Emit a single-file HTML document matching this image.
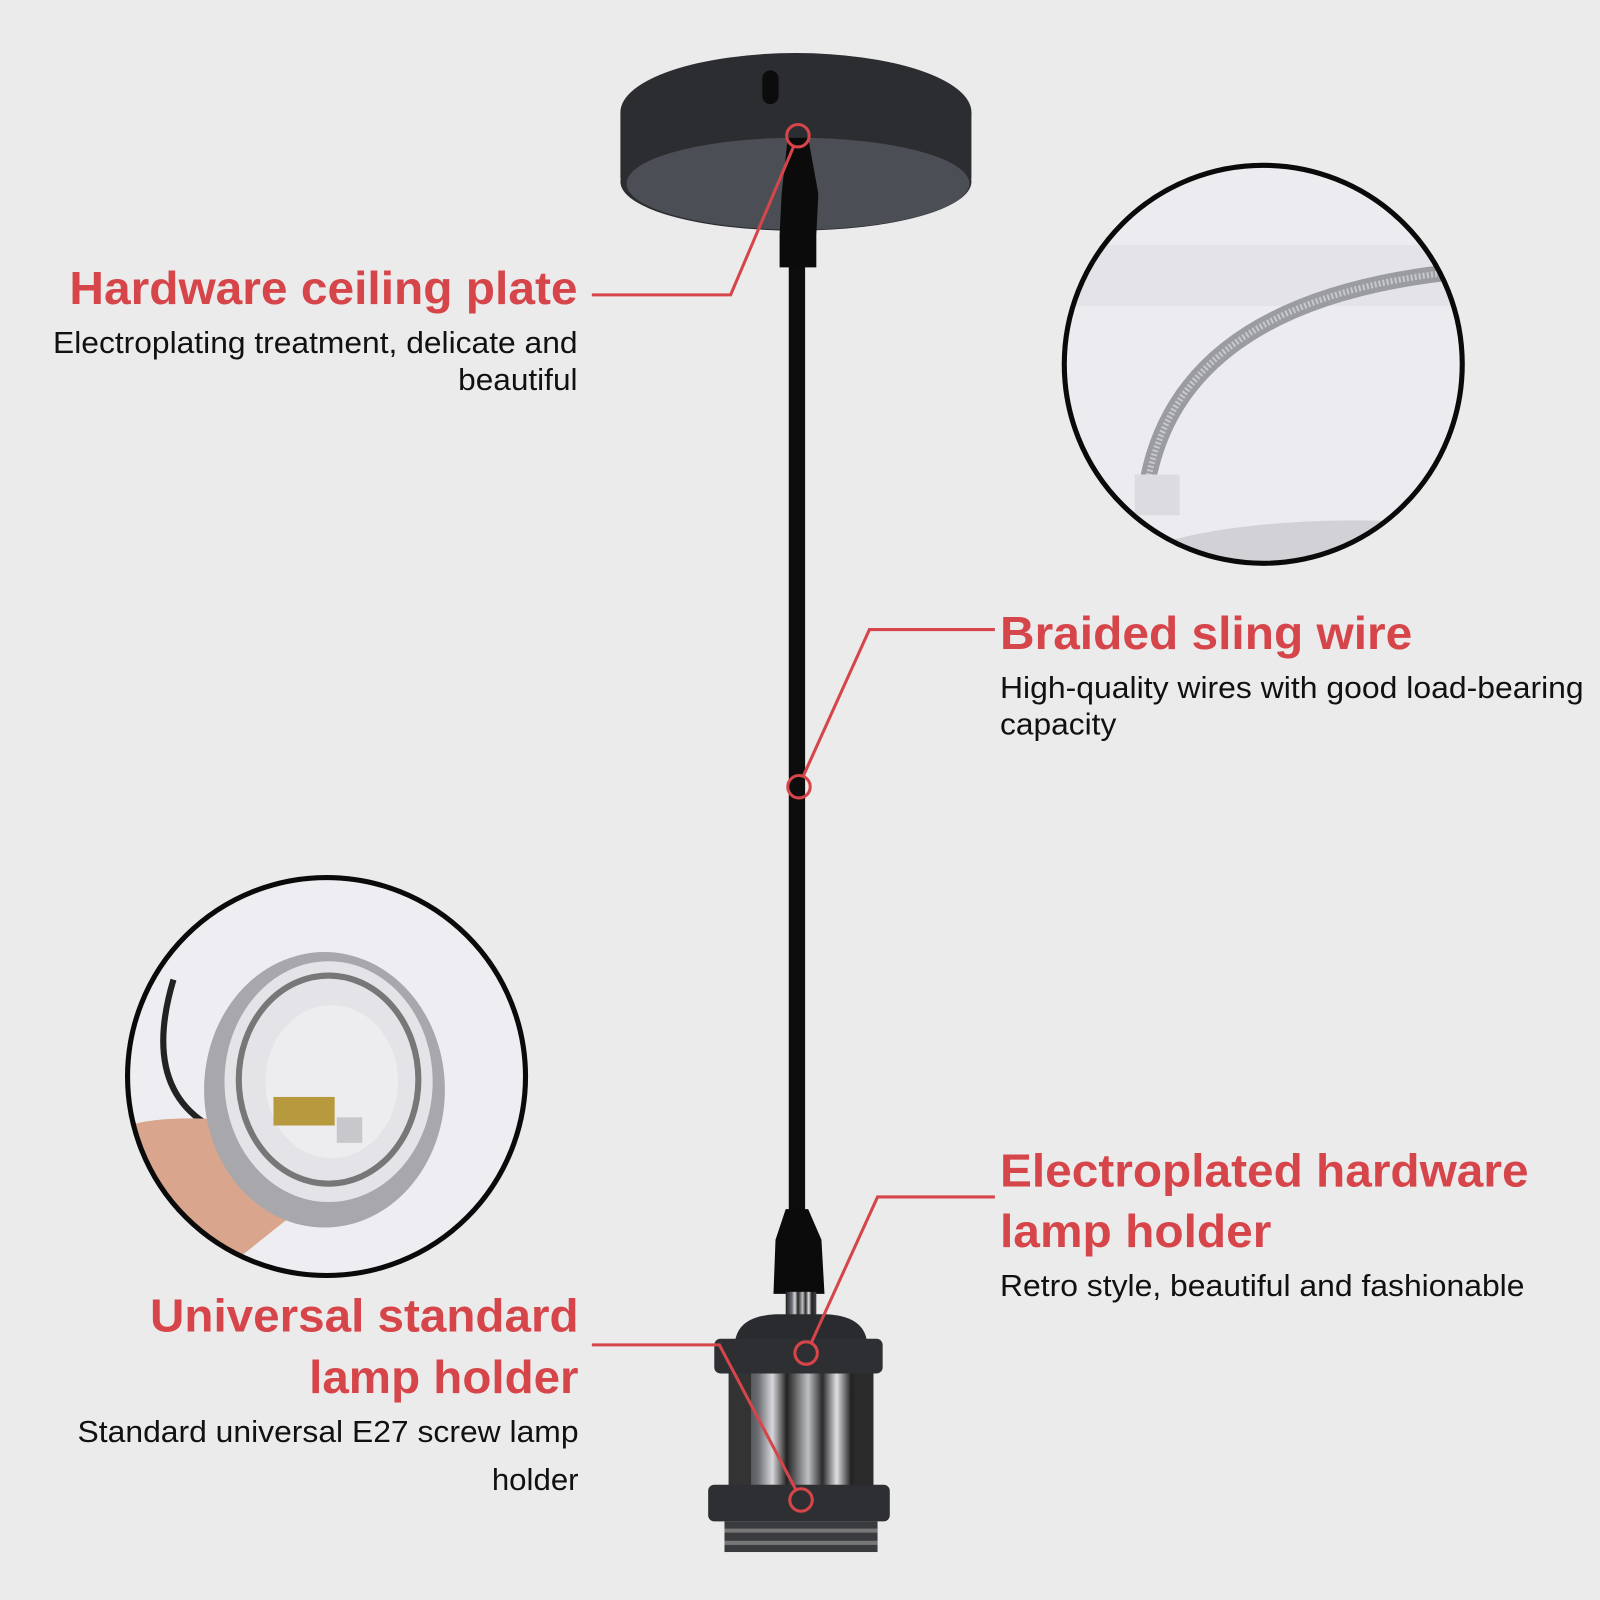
<!DOCTYPE html>
<html><head><meta charset="utf-8"><style>
html,body{margin:0;padding:0;background:#ebebeb;}
svg{display:block}
.t{font-family:"Liberation Sans",sans-serif;font-weight:bold;fill:#d64549;font-size:45px}
.s{font-family:"Liberation Sans",sans-serif;fill:#111;font-size:30px}
</style></head><body>
<svg width="1600" height="1600" viewBox="0 0 1568 1568" xmlns="http://www.w3.org/2000/svg">
<defs>
<linearGradient id="chrome" x1="0" x2="1" y1="0" y2="0">
<stop offset="0" stop-color="#1e1f22"/><stop offset="0.2" stop-color="#6a6d72"/><stop offset="0.3" stop-color="#d8d8dc"/><stop offset="0.4" stop-color="#222"/><stop offset="0.55" stop-color="#bfc0c4"/><stop offset="0.65" stop-color="#2a2a2d"/><stop offset="0.75" stop-color="#e0e0e4"/><stop offset="0.85" stop-color="#222"/><stop offset="1" stop-color="#444"/>
</linearGradient>
<clipPath id="c1"><circle cx="1238" cy="357" r="195"/></clipPath>
<clipPath id="c2"><circle cx="320" cy="1055" r="195"/></clipPath>
</defs>
<rect width="1568" height="1568" fill="#ebebeb"/>

<ellipse cx="780" cy="110" rx="172" ry="58" fill="#2b2d31"/>
<rect x="608" y="110" width="344" height="65" fill="#2b2d31"/>
<ellipse cx="780" cy="178" rx="172" ry="48" fill="#2b2d31"/>
<ellipse cx="782" cy="180" rx="168" ry="45" fill="#4b4f55"/>
<rect x="747" y="69" width="16" height="33" rx="8" fill="#0c0c0c"/>
<path d="M772 135 L792 135 L802 190 L800 230 L800 262 L764 262 L764 230 L766 190 Z" fill="#0b0b0b"/>
<rect x="773" y="260" width="16" height="940" fill="#0d0d0d"/>
<path d="M770 1185 L792 1185 L805 1215 L808 1268 L758 1268 L760 1215 Z" fill="#0b0b0b"/>
<rect x="770" y="1266" width="30" height="24" fill="url(#chrome)"/>
<path d="M720 1320 Q720 1290 760 1288 L810 1288 Q850 1290 850 1320 Z" fill="#2a2b2e"/>
<rect x="715" y="1345" width="140" height="112" fill="url(#chrome)"/>
<rect x="714" y="1345" width="22" height="112" fill="#333"/>
<rect x="838" y="1345" width="18" height="112" fill="#2a2a2a"/>
<rect x="700" y="1312" width="165" height="34" rx="6" fill="#2e2f33"/>
<rect x="694" y="1455" width="178" height="36" rx="6" fill="#2e2f33"/>
<rect x="710" y="1491" width="150" height="30" fill="#3a3b3f"/>
<rect x="710" y="1498" width="150" height="4" fill="#777"/>
<rect x="710" y="1510" width="150" height="4" fill="#777"/>

<g clip-path="url(#c1)">
<rect x="1040" y="160" width="400" height="400" fill="#ececf0"/>
<rect x="1040" y="240" width="400" height="60" fill="#e4e4e8"/>
<ellipse cx="1330" cy="560" rx="230" ry="50" fill="#d2d2d6"/>
<path d="M1125 470 Q1160 290 1440 265" fill="none" stroke="#9a9ca0" stroke-width="16"/>
<path d="M1125 470 Q1160 290 1440 265" fill="none" stroke="#c8c8cc" stroke-width="6" stroke-dasharray="2 2"/>
<rect x="1112" y="465" width="44" height="40" fill="#dcdce0"/>
</g>
<circle cx="1238" cy="357" r="195" fill="none" stroke="#0a0a0a" stroke-width="5"/>

<g clip-path="url(#c2)">
<rect x="120" y="860" width="400" height="400" fill="#eeeef2"/>
<path d="M170 960 Q140 1060 200 1100" fill="none" stroke="#222" stroke-width="6"/>
<path d="M120 1105 Q160 1090 250 1100 L300 1180 L200 1260 L120 1260 Z" fill="#d9a58c"/>
<ellipse cx="318" cy="1068" rx="118" ry="135" fill="#a8a8ac"/>
<ellipse cx="322" cy="1060" rx="102" ry="118" fill="#e4e4e8"/>
<ellipse cx="322" cy="1058" rx="88" ry="102" fill="none" stroke="#777" stroke-width="6"/>
<ellipse cx="325" cy="1060" rx="65" ry="75" fill="#ededef"/>
<rect x="268" y="1075" width="60" height="28" fill="#b89a3e"/>
<rect x="330" y="1095" width="25" height="25" fill="#c8c8cc"/>
</g>
<circle cx="320" cy="1055" r="195" fill="none" stroke="#0a0a0a" stroke-width="5"/>

<g fill="none" stroke="#d64549" stroke-width="3">
<circle cx="782" cy="133" r="11"/>
<polyline points="778,143 716,289 580,289"/>
<circle cx="783" cy="771" r="11"/>
<polyline points="787,761 852,617 975,617"/>
<circle cx="790" cy="1326" r="11"/>
<polyline points="795,1316 860,1173 975,1173"/>
<circle cx="785" cy="1470" r="11"/>
<polyline points="580,1318 705,1318 780,1460"/>
</g>

<text class="t" x="566" y="298" text-anchor="end" textLength="498" lengthAdjust="spacingAndGlyphs">Hardware ceiling plate</text>
<text class="s" x="566" y="346" text-anchor="end" textLength="514" lengthAdjust="spacingAndGlyphs">Electroplating treatment, delicate and</text>
<text class="s" x="566" y="382" text-anchor="end" textLength="117" lengthAdjust="spacingAndGlyphs">beautiful</text>

<text class="t" x="980" y="636" textLength="404" lengthAdjust="spacingAndGlyphs">Braided sling wire</text>
<text class="s" x="980" y="684" textLength="572" lengthAdjust="spacingAndGlyphs">High-quality wires with good load-bearing</text>
<text class="s" x="980" y="720" textLength="114" lengthAdjust="spacingAndGlyphs">capacity</text>

<text class="t" x="980" y="1163" textLength="518" lengthAdjust="spacingAndGlyphs">Electroplated hardware</text>
<text class="t" x="980" y="1222" textLength="266" lengthAdjust="spacingAndGlyphs">lamp holder</text>
<text class="s" x="980" y="1270" textLength="514" lengthAdjust="spacingAndGlyphs">Retro style, beautiful and fashionable</text>

<text class="t" x="567" y="1305" text-anchor="end" textLength="420" lengthAdjust="spacingAndGlyphs">Universal standard</text>
<text class="t" x="567" y="1365" text-anchor="end" textLength="264" lengthAdjust="spacingAndGlyphs">lamp holder</text>
<text class="s" x="567" y="1413" text-anchor="end" textLength="491" lengthAdjust="spacingAndGlyphs">Standard universal E27 screw lamp</text>
<text class="s" x="567" y="1460" text-anchor="end" textLength="85" lengthAdjust="spacingAndGlyphs">holder</text>
</svg>
</body></html>
